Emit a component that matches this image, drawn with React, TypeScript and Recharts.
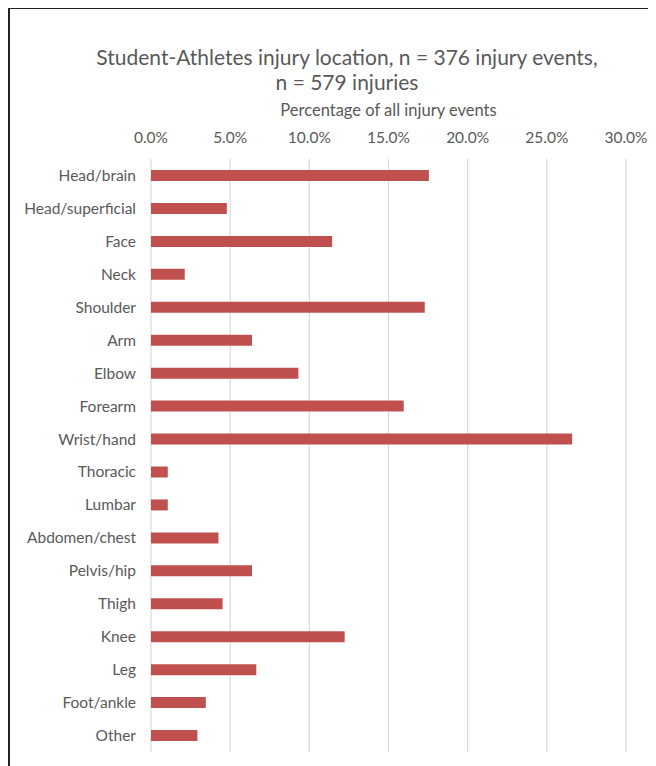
import {
  BarChart,
  Bar,
  XAxis,
  YAxis,
  CartesianGrid,
} from "recharts";

const locations = [
  "Head/brain",
  "Head/superficial",
  "Face",
  "Neck",
  "Shoulder",
  "Arm",
  "Elbow",
  "Forearm",
  "Wrist/hand",
  "Thoracic",
  "Lumbar",
  "Abdomen/chest",
  "Pelvis/hip",
  "Thigh",
  "Knee",
  "Leg",
  "Foot/ankle",
  "Other",
];

// percent of all injury events
const percentages = [
  17.55, 4.79, 11.44, 2.13, 17.29, 6.38, 9.31, 15.96, 26.6, 1.06, 1.06, 4.26,
  6.38, 4.52, 12.23, 6.65, 3.46, 2.93,
];

const xTicks = [0, 5, 10, 15, 20, 25, 30];

const data = locations.map((name, i) => ({ name, value: percentages[i] }));

const font = "Lato, 'Open Sans', sans-serif";
const textColor = "#595959";

function App() {
  return (
    <div
      style={{
        position: "relative",
        width: 660,
        height: 770,
        marginTop: -1,
        borderTop: "2px solid #222",
        borderLeft: "2px solid #222",
        fontFamily: font,
        background: "#fff",
      }}
    >
      <div
        style={{
          position: "absolute",
          left: 0,
          width: 674,
          top: 35,
          textAlign: "center",
          fontSize: 21,
          lineHeight: "25px",
          color: textColor,
        }}
      >
        Student-Athletes injury location, n = 376 injury events,
        <br />n = 579 injuries
      </div>
      <div
        style={{
          position: "absolute",
          left: 141,
          width: 475,
          top: 91,
          textAlign: "center",
          fontSize: 16.5,
          color: textColor,
        }}
      >
        Percentage of all injury events
      </div>
      <BarChart
        width={646}
        height={760}
        data={data}
        layout="vertical"
        margin={{ top: 100, right: 30, bottom: 17, left: 11 }}
        style={{ position: "absolute", left: 0, top: 0 }}
      >
        <CartesianGrid horizontal={false} stroke="#D9D9D9" strokeWidth={1.2} />
        <XAxis
          type="number"
          orientation="top"
          domain={[0, 30]}
          ticks={xTicks}
          height={50}
          axisLine={false}
          tickLine={false}
          tickSize={0}
          tickMargin={16}
          tickFormatter={(v: number) => v.toFixed(1) + "%"}
          tick={{ fill: textColor, fontSize: 15.5, fontFamily: font }}
        />
        <YAxis
          type="category"
          dataKey="name"
          width={130}
          axisLine={false}
          tickLine={false}
          tickSize={0}
          tickMargin={15}
          interval={0}
          tick={{ fill: textColor, fontSize: 15.5, fontFamily: font }}
        />
        <Bar
          dataKey="value"
          fill="#C0504D"
          barSize={11}
          isAnimationActive={false}
        />
      </BarChart>
    </div>
  );
}

export default App;
